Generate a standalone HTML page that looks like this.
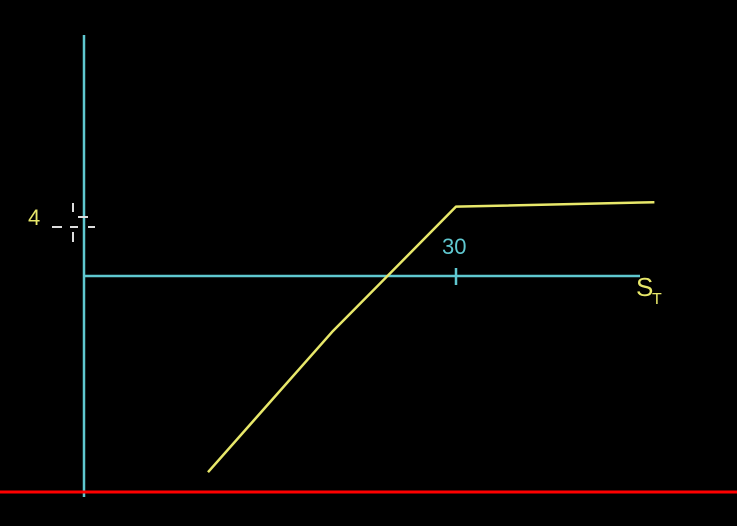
<!DOCTYPE html>
<html><head><meta charset="utf-8"><style>
html,body{margin:0;padding:0;background:#000;width:737px;height:526px;overflow:hidden}
svg{display:block}
text{font-family:"Liberation Sans",sans-serif}
</style></head><body>
<svg width="737" height="526" viewBox="0 0 737 526">
<line x1="84" y1="35" x2="84" y2="497" stroke="#5fc8d0" stroke-width="2.5"/>
<line x1="84" y1="276" x2="640" y2="276" stroke="#5fc8d0" stroke-width="2.5"/>
<g id="marks"></g>
<text x="636" y="296" fill="#e8e86a" font-size="26">S</text>
<text x="652" y="304" fill="#e8e86a" font-size="16">T</text>
<line x1="0" y1="492" x2="737" y2="492" stroke="#ff0000" stroke-width="3"/>
</svg>
<script>
const xTickValues=[30];
const xTickLabels=["30"];
const yTickValues=[4];
const yTickLabels=["4"];
const payoffX=[10,20,30,46];
const payoffY=[-13.3,-3.8,4.7,5.0];
function sx(v){return 84+v*12.4;}
function sy(v){return 276-v*14.75;}
const ns="http://www.w3.org/2000/svg";
const g=document.getElementById('marks');
xTickValues.forEach((v,i)=>{
 const t=document.createElementNS(ns,'line');
 t.setAttribute('x1',sx(v));t.setAttribute('x2',sx(v));t.setAttribute('y1',268);t.setAttribute('y2',285);
 t.setAttribute('stroke','#5fc8d0');t.setAttribute('stroke-width','2.5');
 
 
 g.appendChild(t);
 const l=document.createElementNS(ns,'text');
 l.setAttribute('x',sx(v)-14);l.setAttribute('y',254);l.setAttribute('fill','#5fc8d0');l.setAttribute('font-size','22');
 l.textContent=xTickLabels[i];
 
 
 g.appendChild(l);
});
yTickValues.forEach((v,i)=>{
 const y=sy(v);
 const d=document.createElementNS(ns,'path');
 d.setAttribute('d',`M52 ${y+10}H62 M70 ${y+10}H78 M88 ${y+10}H95 M73 ${y-14}V${y-5} M73 ${y+15}V${y+25} M78 ${y}H88`);
 d.setAttribute('stroke','#ddd');d.setAttribute('stroke-width','2');
 
 
 g.appendChild(d);
 const l=document.createElementNS(ns,'text');
 l.setAttribute('x',28);l.setAttribute('y',y+8);l.setAttribute('fill','#e8e86a');l.setAttribute('font-size','22');
 l.textContent=yTickLabels[i];
 
 
 g.appendChild(l);
});
const p=document.createElementNS(ns,'polyline');
p.setAttribute('points',payoffX.map((x,i)=>sx(x)+','+sy(payoffY[i])).join(' '));
p.setAttribute('fill','none');p.setAttribute('stroke','#e8e86a');p.setAttribute('stroke-width','2.5');p.setAttribute('stroke-linejoin','round');


g.appendChild(p);
</script>
</body></html>
